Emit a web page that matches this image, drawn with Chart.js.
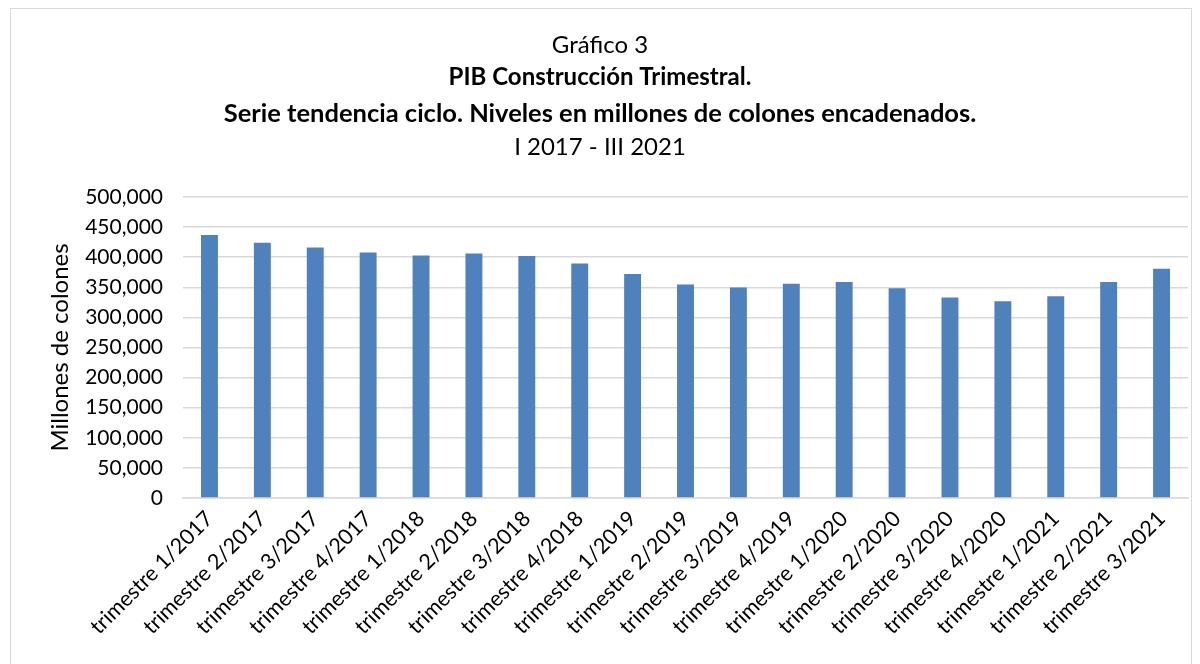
<!DOCTYPE html>
<html>
<head>
<meta charset="utf-8">
<script src="https://cdn.jsdelivr.net/npm/chart.js"></script>
<style>
  body { margin: 0; background: #fff; }
  #frame { position: absolute; left: 10px; top: 8px; width: 1180px; height: 700px; border: 1px solid #d9d9d9; }
  #wrap { position: absolute; left: 0; top: 0; width: 1200px; height: 664px; }
</style>
</head>
<body>
<div id="frame"></div>
<div id="wrap"><canvas id="myChart" width="1200" height="664"></canvas></div>

<script>
const categories = [
  'trimestre 1/2017', 'trimestre 2/2017', 'trimestre 3/2017', 'trimestre 4/2017',
  'trimestre 1/2018', 'trimestre 2/2018', 'trimestre 3/2018', 'trimestre 4/2018',
  'trimestre 1/2019', 'trimestre 2/2019', 'trimestre 3/2019', 'trimestre 4/2019',
  'trimestre 1/2020', 'trimestre 2/2020', 'trimestre 3/2020', 'trimestre 4/2020',
  'trimestre 1/2021', 'trimestre 2/2021', 'trimestre 3/2021'
];
const pibValues = [
  437000, 424000, 416000, 408000,
  403000, 406000, 402000, 389500,
  372000, 354500, 349500, 356000,
  359000, 348500, 333000, 327000,
  335000, 359000, 381000
];
const titleLines = [
  'Gráfico 3',
  'PIB Construcción Trimestral.',
  'Serie tendencia ciclo. Niveles en millones de colones encadenados.',
  'I 2017 - III 2021'
];
const yAxisTitle = 'Millones de colones';

const FONT = 'Lato, "Open Sans", sans-serif';

// titles drawn on the canvas, one line at a time (mixed weights)
const titlePlugin = {
  id: 'titleLines',
  afterDraw(chart) {
    const ctx = chart.ctx;
    const cx = 600;
    const ys = [45, 77, 114, 147];
    const fonts = [
      '24px ' + FONT,
      'bold 24px ' + FONT,
      'bold 25.5px ' + FONT,
      '24px ' + FONT
    ];
    ctx.save();
    ctx.fillStyle = '#000';
    ctx.textAlign = 'center';
    ctx.textBaseline = 'middle';
    titleLines.forEach((t, i) => {
      ctx.font = fonts[i];
      ctx.fillText(t, cx, ys[i]);
    });
    ctx.restore();
  }
};

new Chart(document.getElementById('myChart'), {
  type: 'bar',
  data: {
    labels: categories,
    datasets: [{
      data: pibValues,
      backgroundColor: '#4f81bd',
      borderWidth: 0,
      categoryPercentage: 1,
      barPercentage: 0.32
    }]
  },
  options: {
    responsive: false,
    animation: false,
    layout: { padding: { left: 10, right: 12, top: 197, bottom: 0 } },
    plugins: {
      legend: { display: false },
      tooltip: { enabled: false }
    },
    scales: {
      x: {
        grid: { display: false, drawTicks: false },
        border: { color: '#d9d9d9', width: 1.5 },
        ticks: {
          color: '#000',
          font: { family: FONT, size: 21.5 },
          minRotation: 45,
          maxRotation: 45,
          autoSkip: false,
          padding: 8
        },
        afterFit(scale) { scale.height = 166; }
      },
      y: {
        min: 0,
        max: 500000,
        grid: { color: '#d9d9d9', lineWidth: 1.5, drawTicks: false },
        border: { display: false },
        ticks: {
          stepSize: 50000,
          color: '#000',
          padding: 20,
          font: { family: FONT, size: 21 },
          callback: v => v.toLocaleString('en-US')
        },
        title: {
          display: true,
          text: yAxisTitle,
          color: '#000',
          font: { family: FONT, size: 24 },
          padding: { top: 36, bottom: 0 }
        },
        afterFit(scale) { scale.width = 173; scale.paddingTop = 0; scale.paddingBottom = 0; }
      }
    }
  },
  plugins: [titlePlugin]
});
</script>
</body>
</html>
